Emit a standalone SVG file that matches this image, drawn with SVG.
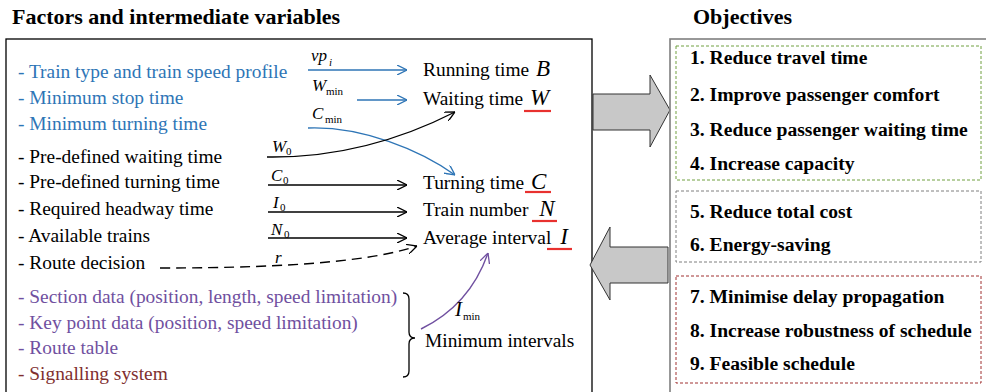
<svg xmlns="http://www.w3.org/2000/svg" width="986" height="392" viewBox="0 0 986 392" font-family="'Liberation Serif', 'Times New Roman', serif">
<defs>
<style>
text{font-family:'Liberation Serif','Times New Roman',serif;}
.t{font-size:19.4px;fill:#000;}
.blue{font-size:19.4px;fill:#2e75b6;}
.pur{font-size:19.4px;fill:#7050a0;}
.brn{font-size:19.4px;fill:#7f2f2f;}
.ttl{font-size:22px;font-weight:bold;fill:#000;}
.obj{font-size:19.6px;font-weight:bold;fill:#000;}
.var{font-size:23px;font-style:italic;fill:#000;}
.lab{font-size:17px;font-style:italic;fill:#000;}
.sub{font-size:11px;fill:#000;}
.subi{font-size:11px;font-style:italic;fill:#000;}
.ul{stroke:#e8312f;stroke-width:2.2;}
.ln{fill:none;stroke-width:1.4;}
</style>
<marker id="ab" viewBox="0 0 10 10" refX="10" refY="5" markerWidth="10" markerHeight="10" markerUnits="userSpaceOnUse" orient="auto"><path d="M0,0 L10,5 L0,10" fill="none" stroke="#000" stroke-width="1.3"/></marker>
<marker id="abl" viewBox="0 0 10 10" refX="10" refY="5" markerWidth="10" markerHeight="10" markerUnits="userSpaceOnUse" orient="auto"><path d="M0,0 L10,5 L0,10" fill="none" stroke="#2e75b6" stroke-width="1.3"/></marker>
<marker id="apu" viewBox="0 0 10 10" refX="10" refY="5" markerWidth="10" markerHeight="10" markerUnits="userSpaceOnUse" orient="auto"><path d="M0,0 L10,5 L0,10" fill="none" stroke="#7050a0" stroke-width="1.3"/></marker>
</defs>
<rect width="986" height="392" fill="#fff"/>

<text class="ttl" x="12" y="24">Factors and intermediate variables</text>
<text class="ttl" x="693" y="24">Objectives</text>

<g id="factors-box">
<rect x="6" y="39" width="586" height="360" fill="none" stroke="#000" stroke-width="1.3"/>
</g>

<g id="factors">
<text class="blue" x="18" y="78">- Train type and train speed profile</text>
<text class="blue" x="18" y="104">- Minimum stop time</text>
<text class="blue" x="18" y="130">- Minimum turning time</text>
<text class="t" x="18" y="163">- Pre-defined waiting time</text>
<text class="t" x="18" y="188">- Pre-defined turning time</text>
<text class="t" x="18" y="215">- Required headway time</text>
<text class="t" x="18" y="242">- Available trains</text>
<text class="t" x="18" y="269">- Route decision</text>
<text class="pur" x="18" y="303">- Section data (position, length, speed limitation)</text>
<text class="pur" x="18" y="329">- Key point data (position, speed limitation)</text>
<text class="pur" x="18" y="354">- Route table</text>
<text class="brn" x="18" y="380">- Signalling system</text>
</g>

<g id="variables">
<text class="t" x="423" y="76">Running time <tspan class="var" dx="2">B</tspan></text>
<g id="waiting"><text class="t" x="423" y="105">Waiting time <tspan class="var" dx="2">W</tspan></text><line class="ul" x1="524" y1="111" x2="551" y2="111"/></g>
<g id="turning"><text class="t" x="423" y="189">Turning time <tspan class="var" dx="2">C</tspan></text><line class="ul" x1="525" y1="192" x2="551" y2="192"/></g>
<g id="trainnum"><text class="t" x="423" y="216">Train number <tspan class="var" dx="6">N</tspan></text><line class="ul" x1="532" y1="221" x2="557" y2="221"/></g>
<g id="avgint"><text class="t" x="423" y="244">Average interval <tspan class="var" dx="4">I</tspan></text><line class="ul" x1="547" y1="249" x2="572" y2="249"/></g>
<g id="minint"><text class="t" x="425" y="347">Minimum intervals</text></g>
</g>

<g id="brace">
<path d="M403,293 Q409,293 409,299 L409,332 Q409,338 415,338 Q409,338 409,344 L409,371 Q409,377 403,377" fill="none" stroke="#000" stroke-width="1.3"/>
</g>

<g id="connectors">
<line class="ln" x1="308" y1="70" x2="407" y2="70" stroke="#2e75b6" marker-end="url(#abl)"/>
<line class="ln" x1="357" y1="100" x2="407" y2="100" stroke="#2e75b6" marker-end="url(#abl)"/>
<path class="ln" d="M308,128 C362,126 420,150 455,175" stroke="#2e75b6" marker-end="url(#abl)"/>
<path class="ln" d="M267,157 C335,158 400,140 455,112" stroke="#000" marker-end="url(#ab)"/>
<line class="ln" x1="268" y1="185" x2="407" y2="185" stroke="#000" marker-end="url(#ab)"/>
<line class="ln" x1="268" y1="212" x2="407" y2="212" stroke="#000" marker-end="url(#ab)"/>
<line class="ln" x1="268" y1="238" x2="407" y2="238" stroke="#000" marker-end="url(#ab)"/>
<path class="ln" d="M160,268 C300,268 375,260 417,246" stroke="#000" stroke-dasharray="10,6" marker-end="url(#ab)"/>
<path class="ln" d="M421,329 Q470,305 488,253" stroke="#7050a0" marker-end="url(#apu)"/>
</g>

<g id="labels">
<text class="lab" x="311" y="61">vp</text><text class="subi" x="329" y="66">i</text>
<text class="lab" x="312" y="91">W</text><text class="sub" x="326" y="95">min</text>
<text class="lab" x="312" y="119">C</text><text class="sub" x="325" y="123">min</text>
<text class="lab" x="272" y="152">W</text><text class="sub" x="286" y="155">0</text>
<text class="lab" x="271" y="181">C</text><text class="sub" x="283" y="184">0</text>
<text class="lab" x="273" y="208">I</text><text class="sub" x="280" y="211">0</text>
<text class="lab" x="271" y="235">N</text><text class="sub" x="284" y="238">0</text>
<text class="lab" x="275" y="263">r</text>
<text class="var" x="455" y="316" style="font-size:21px">I</text><text class="sub" x="463" y="320">min</text>
</g>

<g id="big-arrows">
<polygon points="593,94 650,94 650,75 670,110 650,147 650,130 593,130" fill="#c8c8c8" stroke="#333" stroke-width="1"/>
<polygon points="668,247 610,247 610,227 590,265 610,300 610,283 668,283" fill="#c8c8c8" stroke="#333" stroke-width="1"/>
</g>

<g id="objectives-box">
<rect x="670" y="39" width="320" height="360" fill="none" stroke="#7f7f7f" stroke-width="1.6"/>
</g>

<g id="obj-group1">
<rect x="676" y="46" width="305" height="134" fill="none" stroke="#70a040" stroke-width="1" stroke-dasharray="3,2"/>
<text class="obj" x="690" y="64">1. Reduce travel time</text>
<text class="obj" x="690" y="101">2. Improve passenger comfort</text>
<text class="obj" x="690" y="136">3. Reduce passenger waiting time</text>
<text class="obj" x="690" y="170">4. Increase capacity</text>
</g>
<g id="obj-group2">
<rect x="676" y="191" width="305" height="71" fill="none" stroke="#7f7f7f" stroke-width="1" stroke-dasharray="3,2"/>
<text class="obj" x="690" y="218">5. Reduce total cost</text>
<text class="obj" x="690" y="251">6. Energy-saving</text>
</g>
<g id="obj-group3">
<rect x="676" y="276" width="305" height="107" fill="none" stroke="#a03030" stroke-width="1" stroke-dasharray="3,2"/>
<text class="obj" x="690" y="303">7. Minimise delay propagation</text>
<text class="obj" x="690" y="337">8. Increase robustness of schedule</text>
<text class="obj" x="690" y="370">9. Feasible schedule</text>
</g>
</svg>
